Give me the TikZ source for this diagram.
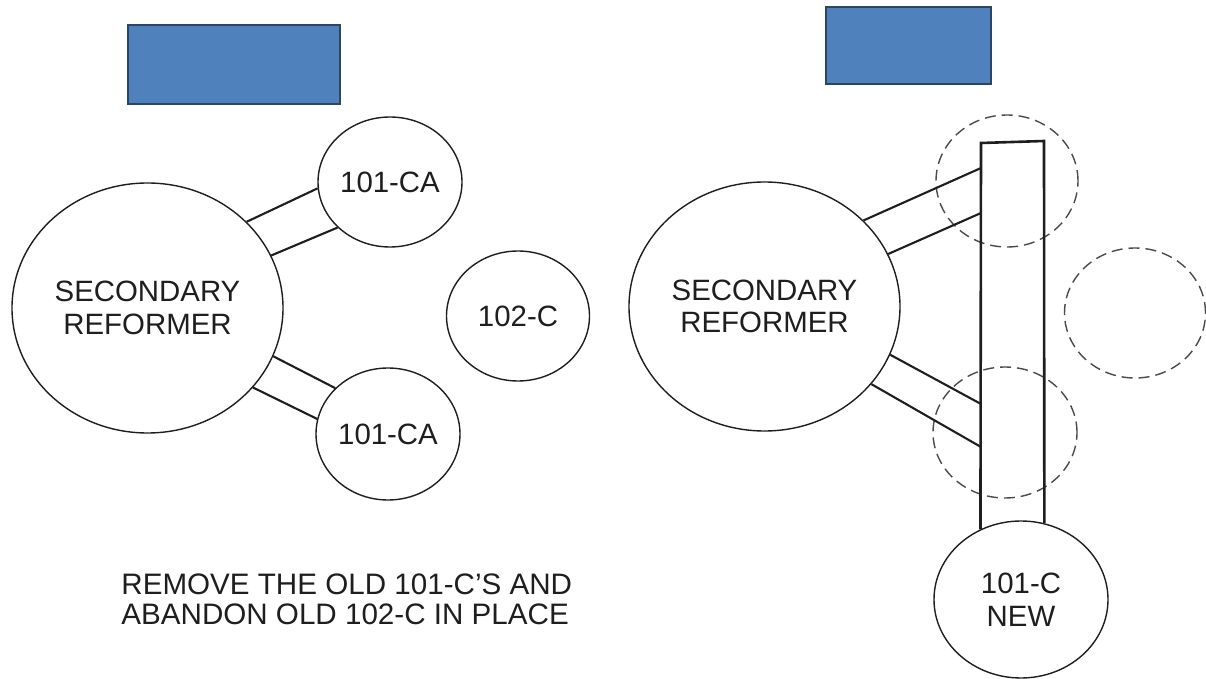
\documentclass[tikz,border=0pt]{standalone}
\usepackage{fontspec}
\setmainfont{Liberation Sans}
\usetikzlibrary{shapes.geometric}
\definecolor{Ink}  {HTML}{1E1E1E}
\definecolor{DGray}{HTML}{4A4A4A}
\definecolor{TagF} {HTML}{4F81BD}
\definecolor{TagD} {HTML}{2B4563}
\tikzset{
  vsl/.style args={#1/#2}{
    ellipse, draw=Ink, text=Ink,
    font=\fontsize{14.7}{16.3}\selectfont, align=center,
    inner sep=0pt, minimum width=#1pt, minimum height=#2pt,
    line width=0.7pt,
  },
  ghost/.style args={#1/#2}{
    ellipse, draw=DGray, dash pattern=on 5.5pt off 3pt,
    inner sep=0pt, minimum width=#1pt, minimum height=#2pt,
    line width=0.7pt,
  },
  tag/.style args={#1/#2}{
    rectangle, draw=TagD, fill=TagF,
    inner sep=0pt, minimum width=#1pt, minimum height=#2pt,
    line width=0.6pt,
  },
  noz/.style={draw=Ink, line width=1.05pt},
  pipe/.style={draw=Ink, line width=1.3pt},
  note/.style={
    text=Ink, font=\fontsize{14.8}{15}\selectfont,
    align=left, inner sep=0pt,
  },
}
\begin{document}
\begin{tikzpicture}[x=0.5pt,y=-0.5pt]
  \useasboundingbox (0,0) rectangle (1206,679);
  % old arrangement
  \node[tag=106/39.5] (tagl) at (234,64.5) {};
  \node[vsl=135.5/125] (srl) at (147.5,308) {SECONDARY\\REFORMER};
  \node[vsl=72/65]     (cat) at (390,182)   {101-CA};
  \node[vsl=72/66]     (cab) at (388,434)   {101-CA};
  \node[vsl=71.5/65]   (oc)  at (518,316)   {102-C};
  \draw[noz] (srl.41.4) -- (cat.185.6); \draw[noz] (srl.23.6) -- (cat.221.4);
  \draw[noz] (srl.339.1) -- (cab.139);  \draw[noz] (srl.323.2) -- (cab.168);
  \node[note, anchor=west] (rmv) at (121,599) {REMOVE THE OLD 101-C’S AND\\ABANDON OLD 102-C IN PLACE};
  % new arrangement
  \node[tag=82.5/38.5] (tagr) at (908.5,45.5) {};
  \node[vsl=135.5/124.5] (srr) at (764.5,306.5) {SECONDARY\\REFORMER};
  \node[ghost=71/66]   (gt) at (1007,181)  {};
  \node[ghost=70.5/65] (gm) at (1135,313)  {};
  \node[ghost=72/65.5] (gb) at (1005,432.5){};
  \node[vsl=87/78.5]   (new) at (1021,599.5) {101-C\\NEW};
  \coordinate (ptl) at (981,143);  \coordinate (ptr) at (1044,141);
  \coordinate (j1) at (981,168); \coordinate (j2) at (981,213);
  \coordinate (j3) at (981,404); \coordinate (j4) at (981,447);
  \draw[pipe] (new.120) -- (ptl) -- (ptr) -- (new.73);
  \draw[noz] (srr.41.3) -- (j1);  \draw[noz] (srr.23.4) -- (j2);
  \draw[noz] (srr.339.3) -- (j3); \draw[noz] (srr.324) -- (j4);
\end{tikzpicture}
\end{document}
